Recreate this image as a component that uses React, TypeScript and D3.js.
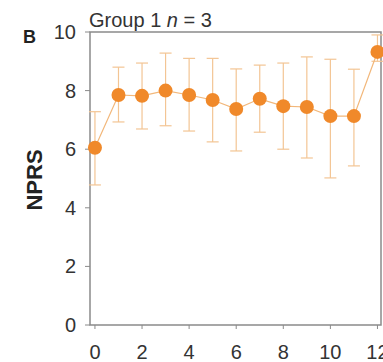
import * as d3 from "d3";
import React, { useEffect, useRef } from "react";

// NPRS by month, group 1
const months = [0, 1, 2, 3, 4, 5, 6, 7, 8, 9, 10, 11, 12];
const means = [6.05, 7.85, 7.82, 8.0, 7.85, 7.68, 7.37, 7.72, 7.47, 7.44, 7.13, 7.13, 9.32];
const upper = [7.28, 8.8, 8.94, 9.28, 9.1, 9.1, 8.74, 8.87, 8.94, 9.15, 9.07, 8.73, 9.9];
const lower = [4.78, 6.93, 6.69, 6.8, 6.62, 6.25, 5.94, 6.58, 6.0, 5.7, 5.02, 5.43, 9.0];
const xTicks = [0, 2, 4, 6, 8, 10, 12];
const yTicks = [0, 2, 4, 6, 8, 10];

export default function App() {
  const ref = useRef<SVGSVGElement>(null);

  useEffect(() => {
    const svg = d3.select(ref.current);
    svg.selectAll("*").remove();
    const left = 90, right = 381, top = 32, bottom = 325;

    const x = d3.scaleLinear().domain([-0.21, 12.15]).range([left, right]);
    const y = d3.scaleLinear().domain([0, 10]).range([bottom, top]);
    const font = "Liberation Sans, Arial, sans-serif";
    const axisCol = "#8a8a8a";

    // frame
    svg.append("rect")
      .attr("x", left).attr("y", top)
      .attr("width", right - left).attr("height", bottom - top)
      .attr("fill", "none").attr("stroke", axisCol).attr("stroke-width", 1.5);

    // y ticks
    const yg = svg.append("g");
    yTicks.forEach((t) => {
      yg.append("line").attr("x1", left - 5).attr("x2", left)
        .attr("y1", y(t)).attr("y2", y(t)).attr("stroke", axisCol);
      yg.append("text").attr("x", 76).attr("y", y(t) + 7)
        .attr("text-anchor", "end").attr("font-family", font)
        .attr("font-size", 20).attr("fill", "#333").text(t);
    });

    // x ticks
    const xg = svg.append("g");
    xTicks.forEach((t) => {
      xg.append("line").attr("x1", x(t)).attr("x2", x(t))
        .attr("y1", bottom).attr("y2", bottom + 4).attr("stroke", axisCol);
      xg.append("text").attr("x", x(t)).attr("y", 359)
        .attr("text-anchor", "middle").attr("font-family", font)
        .attr("font-size", 20).attr("fill", "#333").text(t);
    });

    // labels
    svg.append("text")
      .attr("transform", `translate(42, 180) rotate(-90)`)
      .attr("text-anchor", "middle").attr("font-family", font)
      .attr("font-weight", "bold").attr("font-size", 22).attr("fill", "#222")
      .text("NPRS");
    svg.append("text").attr("x", 23).attr("y", 43)
      .attr("font-family", font).attr("font-weight", "bold")
      .attr("font-size", 18).attr("fill", "#222").text("B");
    const title = svg.append("text").attr("x", 89).attr("y", 27)
      .attr("font-family", font).attr("font-size", 20).attr("fill", "#333");
    title.append("tspan").text("Group 1 ");
    title.append("tspan").attr("font-style", "italic").text("n");
    title.append("tspan").text(" = 3");

    const plot = svg.append("g");
    // error bars
    const barCol = "#f3c594";
    months.forEach((m, i) => {
      plot.append("line").attr("x1", x(m)).attr("x2", x(m))
        .attr("y1", y(lower[i])).attr("y2", y(upper[i]))
        .attr("stroke", barCol).attr("stroke-width", 1.2);
      [lower[i], upper[i]].forEach((v) => {
        plot.append("line").attr("x1", x(m) - 6).attr("x2", x(m) + 6)
          .attr("y1", y(v)).attr("y2", y(v))
          .attr("stroke", barCol).attr("stroke-width", 1.2);
      });
    });

    const line = d3.line<number>().x((_, i) => x(months[i])).y((d) => y(d));
    plot.append("path").attr("d", line(means)!)
      .attr("fill", "none").attr("stroke", "#f2b77a").attr("stroke-width", 1.2);

    plot.selectAll("circle").data(means).enter().append("circle")
      .attr("cx", (_, i) => x(months[i])).attr("cy", (d) => y(d))
      .attr("r", 7).attr("fill", "#f0892a");
  }, []);

  return (
    <svg ref={ref} width={383} height={362}
      style={{ position: "absolute", left: 0, top: 0, background: "#fff" }} />
  );
}
